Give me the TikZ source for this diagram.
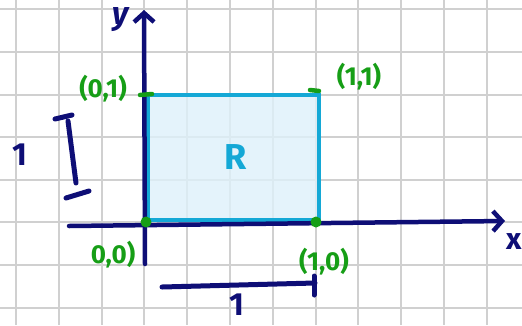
\documentclass[tikz,border=0pt]{standalone}
\usepackage{fontspec}
\setmainfont{Fira Sans}
\usetikzlibrary{arrows.meta}
\definecolor{navy}{RGB}{14,14,118}
\definecolor{pgreen}{RGB}{22,158,22}
\definecolor{rcyan}{RGB}{20,168,214}
\definecolor{rfill}{RGB}{222,241,250}
\definecolor{gridgray}{RGB}{208,208,208}
\tikzset{
  gridline/.style={draw=gridgray, line width=2pt},
  axisline/.style={draw=navy, line width=4.5pt, line cap=round},
  axisarrow/.style={axisline, -{Straight Barb[length=9pt,width=20pt,line width=4.5pt]}},
  dimline/.style={draw=navy, line width=5pt, line cap=round},
  glabel/.style={text=pgreen, font=\fontsize{26}{26}\selectfont\bfseries, inner sep=0pt},
  nlabel/.style={text=navy, font=\fontsize{32}{32}\selectfont\bfseries, inner sep=0pt},
  gmark/.style={draw=pgreen, line width=4.5pt, line cap=round},
  gdot/.style={fill=pgreen, circle, inner sep=0pt, minimum size=11pt},
  region/.style={draw=rcyan, line width=4.5pt, fill=rfill, fill opacity=0.8}
}
\begin{document}
\begin{tikzpicture}[x=1pt,y=-1pt]
\useasboundingbox (0,0) rectangle (522,325);
\fill[white] (0,0) rectangle (522,325);
% grid
\foreach \i in {0,...,11} \draw[gridline] ({16+42.8*\i},0) -- ({16+42.8*\i},325);
\foreach \j in {0,...,7} \draw[gridline] (0,{9.3+42.6*\j}) -- (522,{9.3+42.6*\j});
% region R
\coordinate (A) at (148,95);
\coordinate (C) at (319,220);
\path[region] (A) rectangle (C);
\node[text=rcyan, font=\fontsize{36}{36}\selectfont\bfseries, inner sep=0pt] (R) at (236,157) {R};
% axes
\coordinate (yb) at (145,264);
\coordinate (yt) at (144,10);
\coordinate (xl) at (69,226);
\coordinate (xr) at (505,221);
\draw[axisarrow] (yb) -- (yt);
\draw[axisarrow] (xl) -- (xr);
\node[nlabel, font=\fontsize{32}{32}\selectfont\bfseries\itshape] (ylab) at (121,20) {y};
\node[nlabel, font=\fontsize{30}{30}\selectfont\bfseries, anchor=west] (xlab) at (506,242) {x};
% points
\node[gdot] (O) at (146,222) {};
\node[gdot] (P10) at (316,222) {};
\coordinate (m01a) at (140,95);
\coordinate (m01b) at (152,94);
\draw[gmark] (m01a) -- (m01b);
\coordinate (m11a) at (310,90);
\coordinate (m11b) at (319,91);
\draw[gmark] (m11a) -- (m11b);
\node[glabel] (l01) at (103,89) {(0,1)};
\node[glabel] (l11) at (359,77) {(1,1)};
\node[glabel] (l00) at (113,255) {0,0)};
\node[glabel] (l10) at (324,262) {(1,0)};
% vertical dimension
\coordinate (vt1) at (55,119);
\coordinate (vt2) at (72,115);
\coordinate (vtm) at (68,121);
\coordinate (vbm) at (76,183);
\coordinate (vb1) at (66,198);
\coordinate (vb2) at (89,191);
\draw[dimline] (vt1) -- (vt2);
\draw[dimline] (vtm) -- (vbm);
\draw[dimline] (vb1) -- (vb2);
\node[nlabel] (one1) at (20,155) {1};
% horizontal dimension
\coordinate (hl) at (162,287);
\coordinate (hr) at (315,283);
\coordinate (ht) at (314,276);
\coordinate (hb) at (314,295);
\draw[dimline] (hl) -- (hr);
\draw[dimline] (ht) -- (hb);
\node[nlabel] (one2) at (237,305) {1};
\end{tikzpicture}
\end{document}
